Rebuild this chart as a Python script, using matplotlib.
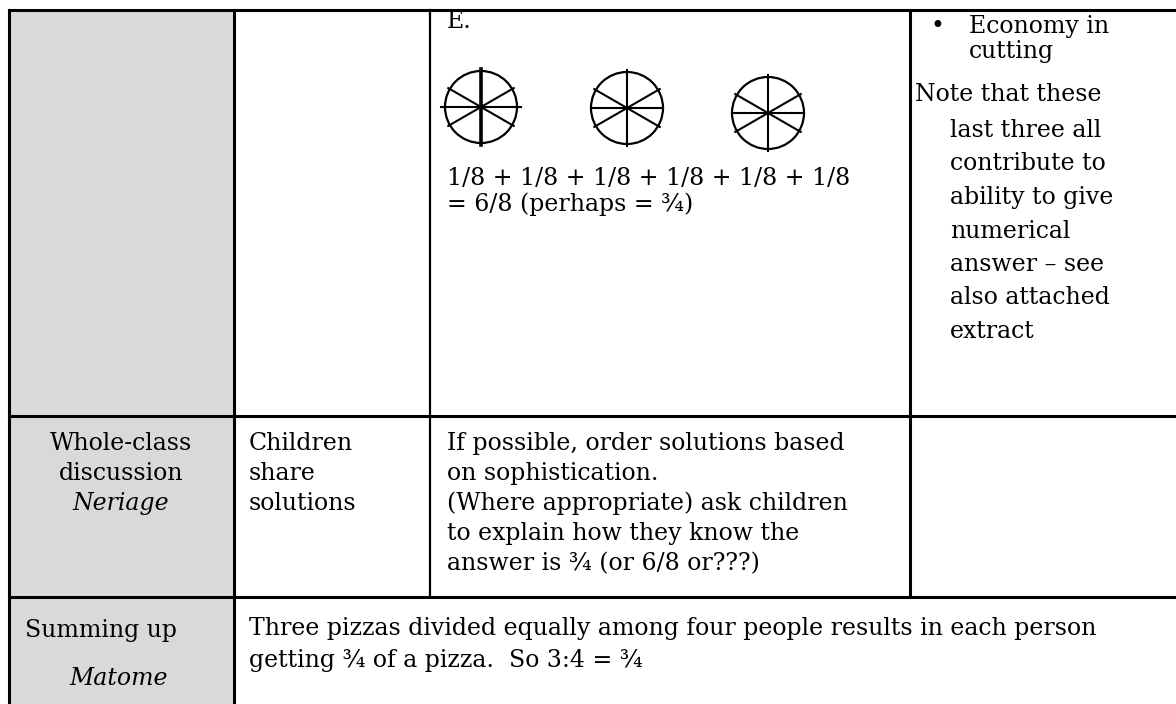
"import modules"
import matplotlib.pyplot as plt
from matplotlib.patches import Rectangle, Circle
import numpy as np

# table text, cell by cell
e_label = "E."
sum_lines = ["1/8 + 1/8 + 1/8 + 1/8 + 1/8 + 1/8", "= 6/8 (perhaps = \u00be)"]
bullet_lines = ["Economy in", "cutting"]
note_first = "Note that these"
note_lines = ["last three all", "contribute to", "ability to give",
              "numerical", "answer \u2013 see", "also attached", "extract"]

stage2 = ["Whole-class", "discussion"]
stage2_jp = "Neriage"
activity2 = ["Children", "share", "solutions"]
teacher2 = ["If possible, order solutions based", "on sophistication.",
            "(Where appropriate) ask children", "to explain how they know the",
            "answer is \u00be (or 6/8 or???)"]

stage3 = "Summing up"
stage3_jp = "Matome"
summary3 = ["Three pizzas divided equally among four people results in each person",
            "getting \u00be of a pizza.  So 3:4 = \u00be"]

# pizza drawings: centre x, centre y, radius (pixels)
pizza_x = [481, 627, 768]
pizza_y = [107, 108, 113]
pizza_r = [36, 36, 36]

FONT = "DejaVu Serif"
FS = 17

fig = plt.figure(figsize=(11.76, 7.04), dpi=100)
ax = fig.add_axes([0, 0, 1, 1])
ax.set_xlim(0, 1176)
ax.set_ylim(704, 0)
ax.axis("off")

ROW1 = 416
ROW2 = 597

# grey first column
ax.add_patch(Rectangle((9, 10), 225, 720, facecolor="#d9d9d9", edgecolor="none"))

# grid lines
lw = 2.2
ax.plot([9, 1180], [10, 10], color="black", lw=lw)
ax.plot([9, 1180], [ROW1, ROW1], color="black", lw=lw)
ax.plot([9, 1180], [ROW2, ROW2], color="black", lw=lw)
ax.plot([9, 9], [10, 710], color="black", lw=lw)
ax.plot([234, 234], [10, 710], color="black", lw=lw)
ax.plot([430, 430], [10, ROW2], color="black", lw=1.6)
ax.plot([910, 910], [10, ROW2], color="black", lw=lw)


def lines(x, y0, step, texts, ha="left", **kw):
    # y0 is the baseline of the first line, step the distance between baselines
    for i, t in enumerate(texts):
        ax.text(x, y0 + i * step, t, family=FONT, fontsize=FS, va="baseline",
                ha=ha, **kw)


# row 1, column 3
ax.text(447, 28, e_label, family=FONT, fontsize=FS, va="baseline")
for k, (cx, cy, r) in enumerate(zip(pizza_x, pizza_y, pizza_r)):
    ax.add_patch(Circle((cx, cy), r, fill=False, edgecolor="black", lw=1.6))
    for ang in [90, 0, 30, -30]:
        a = np.deg2rad(ang)
        ext = 1.05 if ang != 0 else 1.0
        # first pizza: cuts drawn a bit heavier and longer
        width = 2.6 if (k == 0 and ang == 90) else 1.5
        if k == 0 and ang == 0:
            ext = 1.12
        ax.plot([cx - ext * r * np.cos(a), cx + ext * r * np.cos(a)],
                [cy - ext * r * np.sin(a), cy + ext * r * np.sin(a)],
                color="black", lw=width)
lines(447, 185, 26, sum_lines)

# row 1, column 4
ax.text(930, 33, "\u2022", family=FONT, fontsize=FS, va="baseline")
lines(969, 33, 25, bullet_lines)
ax.text(915, 101, note_first, family=FONT, fontsize=FS, va="baseline")
lines(950, 137, 33.5, note_lines)

# row 2
lines(121, 450, 30, stage2, ha="center")
ax.text(121, 510, stage2_jp, family=FONT, fontsize=FS, va="baseline", ha="center",
        style="italic")
lines(249, 450, 30, activity2)
lines(447, 450, 30, teacher2)

# row 3
ax.text(25, 637, stage3, family=FONT, fontsize=FS, va="baseline")
ax.text(119, 685, stage3_jp, family=FONT, fontsize=FS, va="baseline", ha="center",
        style="italic")
lines(249, 635, 32, summary3)

plt.savefig("out.png", dpi=100)
